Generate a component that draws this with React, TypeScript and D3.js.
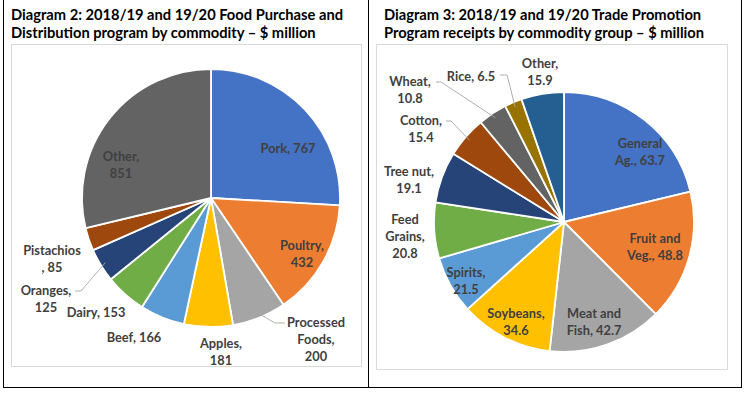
import { useEffect, useRef } from 'react';
import * as d3 from 'd3';

// Diagram 2 - Food Purchase and Distribution program ($ million)
const foodCommodities = ['Pork', 'Poultry', 'Processed Foods', 'Apples', 'Beef', 'Dairy', 'Oranges', 'Pistachios', 'Other'];
const foodValues = [767, 432, 200, 181, 166, 153, 125, 85, 851];

// Diagram 3 - Trade Promotion Program receipts ($ million)
const tradeGroups = ['General Ag.', 'Fruit and Veg.', 'Meat and Fish', 'Soybeans', 'Spirits', 'Feed Grains', 'Tree nut', 'Cotton', 'Wheat', 'Rice', 'Other'];
const tradeValues = [63.7, 48.8, 42.7, 34.6, 21.5, 20.8, 19.1, 15.4, 10.8, 6.5, 15.9];

const officeColors = ['#4472C4', '#ED7D31', '#A5A5A5', '#FFC000', '#5B9BD5', '#70AD47', '#264478', '#9E480E', '#636363', '#997300', '#255E91'];
const foodColors = [...officeColors.slice(0, 8), '#636363'];

const titles = [
  ['Diagram 2: 2018/19 and 19/20 Food Purchase and', 'Distribution program by commodity \u2013 $ million'],
  ['Diagram 3: 2018/19 and 19/20 Trade Promotion', 'Program receipts by commodity group \u2013 $ million'],
];

// label layout (centre x and first-line y), leader start if any
type LabelLayout = { x: number; y: number; lines: string[]; leader?: [number, number][] };

const foodLabels: LabelLayout[] = [
  { x: 288, y: 149, lines: ['Pork, 767'] },
  { x: 302, y: 246, lines: ['Poultry,', '432'] },
  { x: 316, y: 323, lines: ['Processed', 'Foods,', '200'], leader: [[285, 323], [275, 323]] },
  { x: 221, y: 344, lines: ['Apples,', '181'] },
  { x: 134, y: 338, lines: ['Beef, 166'] },
  { x: 96, y: 313, lines: ['Dairy, 153'] },
  { x: 46, y: 291, lines: ['Oranges,', '125'], leader: [[75, 291], [81, 291]] },
  { x: 52, y: 251, lines: ['Pistachios', ', 85'] },
  { x: 121, y: 157, lines: ['Other,', '851'] },
];

const tradeLabels: LabelLayout[] = [
  { x: 640, y: 144, lines: ['General', 'Ag., 63.7'] },
  { x: 655, y: 239, lines: ['Fruit and', 'Veg., 48.8'] },
  { x: 594, y: 314, lines: ['Meat and', 'Fish, 42.7'] },
  { x: 516, y: 314, lines: ['Soybeans,', '34.6'] },
  { x: 466, y: 273, lines: ['Spirits,', '21.5'] },
  { x: 405, y: 220, lines: ['Feed', 'Grains,', '20.8'] },
  { x: 409, y: 172, lines: ['Tree nut,', '19.1'] },
  { x: 421, y: 121, lines: ['Cotton,', '15.4'], leader: [[446, 121], [451, 121]] },
  { x: 410, y: 82, lines: ['Wheat,', '10.8'], leader: [[436, 82], [441, 82]] },
  { x: 471, y: 77, lines: ['Rice, 6.5'], leader: [[500, 75], [507, 75]] },
  { x: 540, y: 64, lines: ['Other,', '15.9'] },
];

const FONT = 'Lato, "Liberation Sans", sans-serif';

export default function App() {
  const svgRef = useRef<SVGSVGElement>(null);

  useEffect(() => {
    if (!svgRef.current) return;
    const svg = d3.select(svgRef.current);
    svg.selectAll('*').remove();

    // outer frame and divider
    svg.append('rect').attr('x', 3.5).attr('y', -1).attr('width', 738).attr('height', 388.5)
      .attr('fill', 'none').attr('stroke', '#000').attr('stroke-width', 1);
    svg.append('line').attr('x1', 368.5).attr('x2', 368.5).attr('y1', 0).attr('y2', 387)
      .attr('stroke', '#000');

    // chart areas
    svg.append('rect').attr('x', 11.5).attr('y', 44.5).attr('width', 350).attr('height', 322)
      .attr('fill', '#fff').attr('stroke', '#d9d9d9');
    svg.append('rect').attr('x', 376.5).attr('y', 44.5).attr('width', 351).attr('height', 325)
      .attr('fill', '#fff').attr('stroke', '#d9d9d9');

    // titles
    titles.forEach((t, i) => {
      const x = i === 0 ? 11 : 384;
      t.forEach((line, j) => {
        svg.append('text')
          .attr('x', x).attr('y', 20 + j * 18)
          .attr('font-family', FONT).attr('font-weight', 700).attr('font-size', 14.7)
          .attr('fill', '#000')
          .text(line);
      });
    });

    const drawPie = (
      names: string[], values: number[], colors: string[], labels: LabelLayout[],
      cx: number, cy: number, r: number,
    ) => {
      const pie = d3.pie<number>().sort(null).value((d) => d);
      const arcs = pie(values);
      const arc = d3.arc<d3.PieArcDatum<number>>().innerRadius(0).outerRadius(r);
      const edge = d3.arc<d3.PieArcDatum<number>>().innerRadius(r * 0.96).outerRadius(r * 0.96);
      const g = svg.append('g').attr('transform', `translate(${cx},${cy})`);

      g.selectAll('path.slice')
        .data(arcs)
        .join('path')
        .attr('class', 'slice')
        .attr('d', arc)
        .attr('fill', (_, i) => colors[i])
        .attr('stroke', '#fff')
        .attr('stroke-width', 1.8)
        .attr('stroke-linejoin', 'round');

      labels.forEach((lab, i) => {
        if (lab.leader) {
          const [ex, ey] = edge.centroid(arcs[i]);
          const pts: [number, number][] = [...lab.leader, [ex + cx, ey + cy]];
          svg.append('path')
            .attr('d', d3.line()(pts))
            .attr('fill', 'none')
            .attr('stroke', '#a6a6a6')
            .attr('stroke-width', 0.9);
        }
        const t = svg.append('text')
          .attr('text-anchor', 'middle')
          .attr('font-family', FONT).attr('font-weight', 700).attr('font-size', 12.8)
          .attr('fill', '#404040')
          .attr('data-name', names[i]);
        lab.lines.forEach((line, j) => {
          t.append('tspan').attr('x', lab.x).attr('y', lab.y + j * 17 + 4).text(line);
        });
      });
    };

    drawPie(foodCommodities, foodValues, foodColors, foodLabels, 211, 198, 129);
    drawPie(tradeGroups, tradeValues, officeColors, tradeLabels, 564, 222, 130);
  }, []);

  return (
    <div style={{ position: 'fixed', left: 0, top: 0 }}>
      <svg ref={svgRef} width={746} height={393} style={{ display: 'block', background: '#fff' }} />
    </div>
  );
}
